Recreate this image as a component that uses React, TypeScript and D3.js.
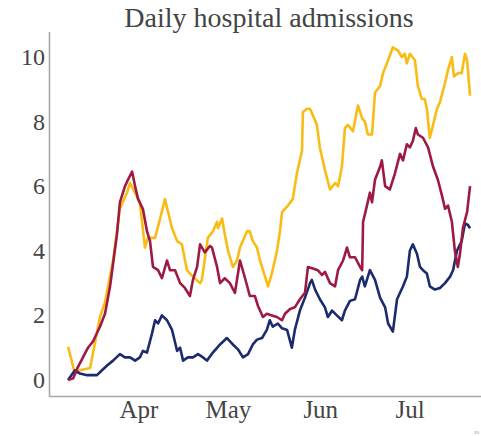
import React from "react";
import * as d3 from "d3";

// day = days since 2020-03-01
const yellowDays = [7.2,9.5,11.2,14.6,17.9,19.6,22.3,24.6,27.0,28.0,31.3,33.0,34.0,36.4,38.1,39.7,42.1,43.8,45.4,47.1,49.1,51.5,52.1,54.1,55.8,57.2,57.5,58.9,59.8,60.9,62.5,63.9,64.9,67.2,68.2,69.2,70.6,71.6,73.3,74.3,75.6,77.3,78.3,79.0,80.0,81.0,82.6,84.0,85.7,86.0,87.4,88.4,90.7,91.7,93.4,95.1,96.8,97.8,99.1,100.1,101.1,102.8,104.5,105.9,106.8,107.8,109.2,110.2,111.9,112.9,114.6,116.2,117.9,119.2,120.2,120.9,121.9,123.6,124.6,125.9,126.9,127.6,128.6,129.7,131.0,132.0,133.7,134.7,136.0,136.7,138.0,139.3,140.4,141.1,142.1];
const yellowVals = [1.03,0.2,0.3,0.37,1.95,2.4,3.7,5.3,5.8,6.1,5.5,4.1,4.4,4.4,5.0,5.6,4.7,4.3,4.2,3.4,3.2,3.0,3.1,4.4,4.6,4.9,4.7,5.0,4.5,4.0,3.5,3.7,4.1,4.6,4.6,4.3,4.1,3.7,3.2,2.9,3.3,4.0,4.6,5.2,5.3,5.4,5.6,6.4,7.1,8.3,8.4,8.4,7.9,7.2,6.5,5.9,6.1,6.0,6.6,7.8,7.9,7.7,8.5,8.1,8.0,7.6,7.6,8.9,9.1,9.5,9.9,10.3,10.2,10.0,10.1,9.8,10.1,9.9,9.1,8.7,8.7,8.4,7.5,7.9,8.4,8.6,9.2,9.6,10.0,9.4,9.5,9.5,10.1,9.9,8.8];

const redDays = [7.2,8.9,10.5,12.2,13.9,15.6,17.9,19.6,21.3,22.3,23.6,24.6,26.3,27.3,28.7,29.7,30.7,32.3,33.7,34.7,35.7,37.4,38.7,40.4,41.4,43.1,44.8,46.4,48.1,49.1,50.5,51.5,53.1,54.8,55.5,57.2,58.2,59.8,61.5,63.2,64.9,66.6,68.2,69.9,70.9,72.6,73.9,75.6,77.3,79.0,80.0,81.7,83.3,85.0,86.7,87.7,89.4,91.0,92.4,93.4,95.1,96.8,97.8,99.5,100.8,101.8,103.5,105.2,105.9,106.2,107.5,108.5,109.2,110.2,111.9,112.5,113.6,115.2,116.9,118.6,119.6,120.9,121.9,122.9,123.9,124.6,126.3,128.0,129.7,131.3,132.7,133.7,134.7,136.0,137.0,138.0,138.7,139.7,141.1,142.1];
const redVals = [0,0.05,0.4,0.7,1.0,1.2,1.65,2.05,2.9,3.6,4.5,5.5,6.0,6.2,6.45,6.0,5.6,5.3,4.6,4.3,3.5,3.4,3.15,3.7,3.4,3.4,3.0,2.85,2.6,3.1,3.5,4.2,3.95,4.15,4.1,3.5,3.0,3.15,3.0,2.7,3.7,3.15,2.6,2.6,2.3,1.95,2.05,2.0,1.95,1.85,2.05,2.2,2.25,2.5,2.7,3.5,3.45,3.4,3.25,3.35,3.0,2.9,3.4,3.7,4.1,3.8,3.8,3.5,3.4,4.9,5.4,5.8,5.5,6.2,6.6,6.8,6.0,5.9,6.4,7.0,6.8,7.3,7.2,7.4,7.8,7.6,7.5,7.2,6.6,6.2,5.7,5.3,5.4,4.9,4.0,3.5,3.9,4.7,5.2,6.0];

const blueDays = [7.2,9.5,11.2,13.6,16.9,18.6,20.3,22.3,24.6,26.3,28.0,29.7,31.3,32.3,33.7,35.4,36.4,37.4,38.7,40.4,42.1,43.8,44.8,45.8,47.4,49.1,50.8,52.5,53.8,55.8,58.2,60.5,62.5,64.2,65.9,67.6,69.2,70.6,72.3,73.9,74.9,75.9,77.6,79.0,80.7,82.3,83.3,85.0,86.7,88.4,89.0,90.1,91.7,93.4,94.4,95.8,97.4,99.1,100.1,101.8,103.5,105.2,105.9,106.8,108.5,110.2,111.9,113.6,114.6,116.2,117.6,118.6,119.6,120.9,121.9,122.9,124.3,125.3,126.3,127.6,128.6,130.3,132.0,133.7,135.4,136.4,137.7,139.3,140.4,141.4,142.1];
const blueVals = [0,0.3,0.2,0.15,0.15,0.3,0.45,0.6,0.8,0.7,0.7,0.6,0.7,0.9,0.85,1.45,1.85,1.75,2.0,1.85,1.55,0.9,1.0,0.6,0.7,0.7,0.8,0.7,0.6,0.85,1.1,1.3,1.1,0.95,0.7,0.8,1.1,1.25,1.3,1.55,1.85,1.65,1.75,1.6,1.55,1.0,1.55,2.15,2.55,3.0,3.1,2.8,2.5,2.25,1.95,2.15,2.0,1.85,2.15,2.45,2.5,3.1,3.2,2.9,3.4,3.1,2.55,2.25,1.75,1.5,2.5,2.7,2.9,3.2,4.0,4.2,3.9,3.5,3.4,3.3,2.9,2.8,2.85,3.0,3.2,3.4,4.0,4.3,4.85,4.8,4.7];

const yTicks = [0, 2, 4, 6, 8, 10];
const monthTicks = ["2020-04-01", "2020-05-01", "2020-06-01", "2020-07-01"];
const title = "Daily hospital admissions";

const BASE = Date.UTC(2020, 2, 1);
const toDate = (d: number) => new Date(BASE + d * 86400000);

export default function App() {
  const W = 481, H = 436;
  const x = d3.scaleUtc().domain([toDate(0), toDate(142)]).range([46.6, 46.6 + 142 * 2.98]);
  const y = d3.scaleLinear().domain([0, 10]).range([380, 57]);
  const line = d3.line<[number, number]>().x(p => x(toDate(p[0]))).y(p => y(p[1]));
  const series = [
    { days: yellowDays, vals: yellowVals, color: "#F9BC15" },
    { days: blueDays, vals: blueVals, color: "#1C2A6E" },
    { days: redDays, vals: redVals, color: "#9E1A42" },
  ];
  const fmt = d3.utcFormat("%b");
  const font = "'Liberation Serif', 'DejaVu Serif', serif";
  return (
    <svg width={W} height={H} style={{ position: "absolute", left: 0, top: 0, background: "#fff" }}>
      <text x={269} y={27} textAnchor="middle" fontFamily={font} fontSize={28} fill="#444">{title}</text>
      <line x1={49.5} x2={49.5} y1={32} y2={397} stroke="#a8a8a8" strokeWidth={1.6} />
      <line x1={49} x2={481} y1={396.5} y2={396.5} stroke="#a8a8a8" strokeWidth={1.6} />
      {yTicks.map(t => (
        <text key={t} x={45} y={y(t) + 8} textAnchor="end" fontFamily={font} fontSize={24} fill="#444">{t}</text>
      ))}
      {monthTicks.map(m => {
        const dt = new Date(m + "T00:00:00Z");
        return (
          <text key={m} x={x(dt)} y={418} textAnchor="middle" fontFamily={font} fontSize={25} fill="#444">{fmt(dt)}</text>
        );
      })}
      {series.map((s, i) => (
        <path key={i} d={line(s.days.map((d, j) => [d, s.vals[j]] as [number, number])) || ""} fill="none" stroke={s.color} strokeWidth={2.6} strokeLinejoin="round" />
      ))}
      <text x={474} y={434} fontFamily={font} fontSize={5} fill="#888">20</text>
    </svg>
  );
}
